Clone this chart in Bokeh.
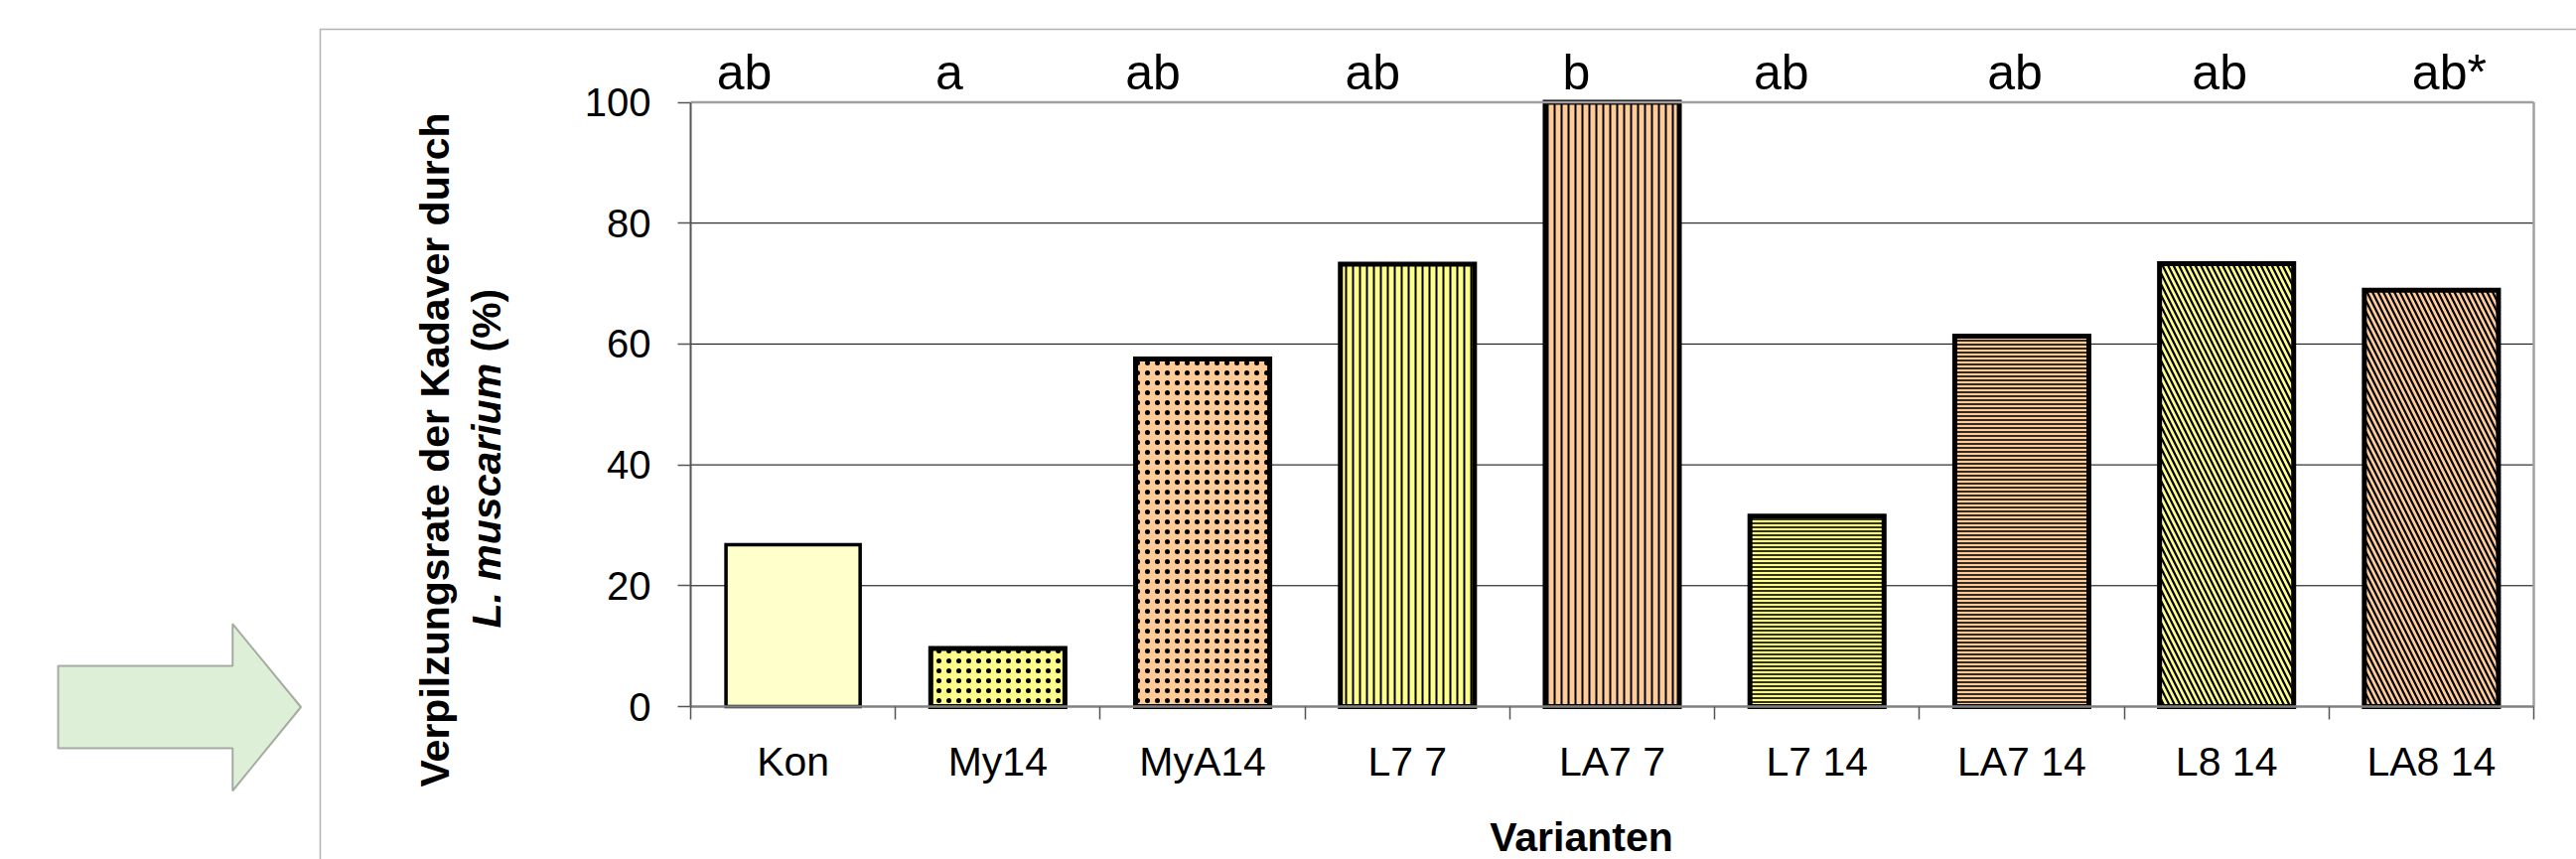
import math
import numpy as np
from bokeh.plotting import figure
from bokeh.models import (ColumnDataSource, Range1d, FixedTicker, Label, PolyAnnotation, LinearAxis)
from bokeh.embed import file_html
from bokeh.resources import INLINE

# ---------------- data ----------------
categories = ["Kon", "My14", "MyA14", "L7 7", "LA7 7", "L7 14", "LA7 14", "L8 14", "LA8 14"]
values = [26.8, 9.6, 57.5, 73.2, 100.0, 31.5, 61.3, 73.3, 68.9]
letters = ["ab", "a", "ab", "ab", "b", "ab", "ab", "ab", "ab*"]
y_ticks = [0, 20, 40, 60, 80, 100]
y_title_1 = "Verpilzungsrate der Kadaver durch"
y_title_2a = "L. muscarium"
y_title_2b = "(%)"
x_title = "Varianten"

# ---------------- styles ----------------
YEL = "#FFFF8C"
PEA = "#FFCC99"
fill_colors = ["#FFFFCC", YEL, PEA, YEL, PEA, YEL, PEA, YEL, PEA]
hatch_patterns = [" ", "dot", "dot", "vertical_line", "vertical_line",
                  "horizontal_line", "horizontal_line", "left_diagonal_line", "left_diagonal_line"]
hatch_scales = [8, 10, 10, 7, 7, 4, 4, 11, 11]
hatch_weights = [1, 3, 3, 2, 2, 1.6, 1.6, 2.2, 2.2]
line_widths = [3.5, 5, 5, 5, 5, 5, 5, 5, 5]
letter_offsets_px = [-49, -49, -50, -35, -36, -36, -7, -7, 18]

FONT = "Liberation Sans"
MID = 0.3465          # distance from alphabetic baseline to em-box middle, in em
W, H = 2594, 865
FL, FR, FT, FB = 695, 2551, 102.5, 711   # plot-area edges in canvas pixels
N = len(categories)
COLW = (FR - FL) / N
PXU = (FB - FT) / 100.0

centers = (np.arange(N) + 0.5).tolist()      # category slots on the x scale
slot_edges = list(range(N + 1))


def px2x(tx):  # canvas pixel -> data x
    return (tx - FL) / COLW


def px2y(ty):
    return (FB - ty) / PXU


p = figure(x_range=Range1d(-FL / COLW, (W - FL) / COLW),
           y_range=Range1d(-(H - FB) / PXU, FB / PXU),
           width=W, height=H, output_backend="svg", toolbar_location=None,
           x_axis_location=None, y_axis_location=None,
           min_border_left=0, min_border_right=0, min_border_top=0, min_border_bottom=0)
p.outline_line_color = None
p.background_fill_color = "white"
p.border_fill_color = "white"
p.grid.visible = False

# gridlines inside the plot area
grid_ticks = y_ticks[1:-1]
p.segment(x0=[0] * len(grid_ticks), x1=[N] * len(grid_ticks), y0=grid_ticks, y1=grid_ticks,
          line_color="black", line_width=1)

# bars
src = ColumnDataSource(dict(x=centers, val=values, fill=fill_colors, hatch=hatch_patterns,
                            hs=hatch_scales, hw=hatch_weights, lw=line_widths))
p.vbar(x="x", top="val", bottom=0, width=0.655, source=src,
       fill_color="fill", hatch_pattern="hatch", hatch_scale="hs", hatch_weight="hw",
       hatch_color="black", line_color="black", line_width="lw", line_join="miter")

# plot-area border (top and right)
p.segment(x0=[0, N], x1=[N, N], y0=[100, 0], y1=[100, 100], line_color="#a0a0a0", line_width=2.5)

# y axis
ya = LinearAxis(fixed_location=0, bounds=(0, 100), ticker=FixedTicker(ticks=y_ticks))
ya.axis_line_color = "#555555"
ya.axis_line_width = 2
ya.major_tick_line_color = "#555555"
ya.major_tick_line_width = 1.5
ya.major_tick_out = 13
ya.major_tick_in = 0
ya.minor_tick_out = 0
ya.minor_tick_in = 0
ya.minor_tick_line_color = None
ya.major_label_standoff = 27
ya.major_label_text_font = FONT
ya.major_label_text_font_size = "40px"
ya.major_label_text_color = "black"
p.add_layout(ya, "left")

# x axis: labels at slot centres, ticks at slot boundaries
xa = LinearAxis(fixed_location=0, bounds=(0, N),
                ticker=FixedTicker(ticks=centers, minor_ticks=slot_edges))
xa.major_label_overrides = {c: name for c, name in zip(centers, categories)}
xa.axis_line_color = "#808080"
xa.axis_line_width = 2.5
xa.major_tick_out = 0
xa.major_tick_in = 0
xa.major_tick_line_color = None
xa.minor_tick_out = 13
xa.minor_tick_in = 0
xa.minor_tick_line_color = "#555555"
xa.minor_tick_line_width = 1.5
xa.major_label_standoff = 19
xa.major_label_text_font = FONT
xa.major_label_text_font_size = "41px"
xa.major_label_text_color = "black"
p.add_layout(xa, "below")


def label(x_px, y_px, text, size, style="normal", align="center", rotated=False):
    """Place a text whose alphabetic baseline passes through (x_px, y_px)."""
    if rotated:
        x_px = x_px - MID * size
    else:
        y_px = y_px - MID * size
    p.add_layout(Label(x=px2x(x_px), y=px2y(y_px), text=text,
                       angle=math.pi / 2 if rotated else 0,
                       text_align=align, text_baseline="middle", text_font=FONT,
                       text_font_size=f"{size}px", text_font_style=style, text_color="black"))


# significance letters (baseline just above the plot area)
for c, t, off in zip(centers, letters, letter_offsets_px):
    label(FL + c * COLW + off, 90, t, 50)

# y axis title (two lines, rotated)
label(452, 452.5, y_title_1, 41, "bold", "center", rotated=True)
split = 632 - 266.6
label(504, split, y_title_2a, 41, "bold italic", "right", rotated=True)
label(504, split - 11.4, y_title_2b, 41, "bold", "left", rotated=True)

# x axis title
label(1592, 857, x_title, 41, "bold")

# chart-area border (top and left edges visible)
bx = [322, 3000, 3000, 322]
by = [29, 29, 1000, 1000]
p.add_layout(PolyAnnotation(xs=[px2x(v) for v in bx], ys=[px2y(v) for v in by],
                            fill_color=None, fill_alpha=0, line_color="black", line_width=1.5))

# arrow
ax_ = [58, 233.7, 233.7, 302.6, 233.7, 233.7, 58]
ay_ = [670, 670, 627.7, 711.5, 796, 753, 753]
p.add_layout(PolyAnnotation(xs=[px2x(v) for v in ax_], ys=[px2y(v) for v in ay_],
                            fill_color="#DDEFD6", fill_alpha=1, line_color="black", line_width=2))

open("out.html", "w").write(file_html(p, INLINE))
